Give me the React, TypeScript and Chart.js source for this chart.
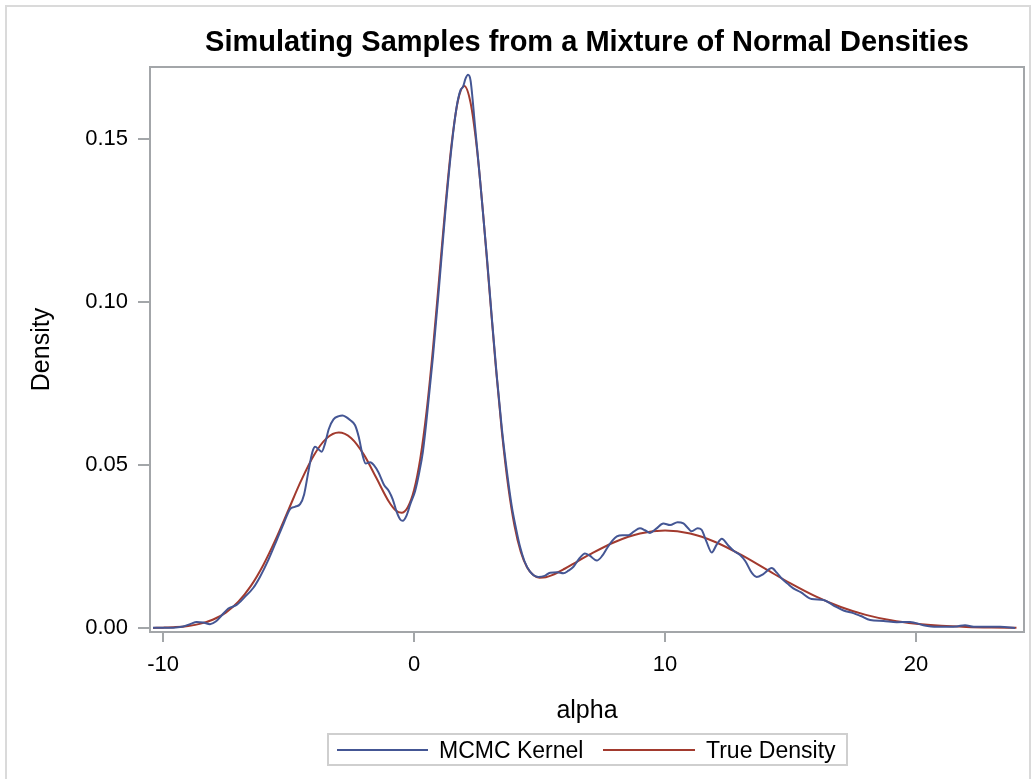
import React, { useEffect, useRef } from "react";
import { Chart, registerables } from "chart.js";

Chart.register(...registerables);

const chartTitle = "Simulating Samples from a Mixture of Normal Densities";
const xAxisTitle = "alpha";
const yAxisTitle = "Density";
const seriesNames = ["MCMC Kernel", "True Density"];
const seriesColors = ["#445694", "#A23A2E"];

const xTickValues = [-10, 0, 10, 20];
const xTickLabels = ["-10", "0", "10", "20"];
const yTickValues = [0, 0.05, 0.1, 0.15];
const yTickLabels = ["0.00", "0.05", "0.10", "0.15"];

const mcmcAlpha = [
  -10.4, -10.0, -9.5, -9.2, -8.9, -8.66, -8.4, -8.13, -7.9, -7.65, -7.4, -7.07, -6.75, -6.41, -6.14,
  -5.8, -5.47, -5.2, -4.94, -4.75, -4.54, -4.38, -4.21, -4.05, -3.94, -3.8, -3.68, -3.55, -3.4, -3.21,
  -3.0, -2.85, -2.7, -2.55, -2.35, -2.2, -2.05, -1.93, -1.75, -1.6, -1.42, -1.2, -1.0, -0.85, -0.7,
  -0.55, -0.45, -0.3, -0.15, 0.04, 0.2, 0.35, 0.5, 0.75, 1.0, 1.25, 1.5, 1.7, 1.85, 1.95, 2.05, 2.15,
  2.25, 2.43, 2.6, 2.9, 3.1, 3.3, 3.5, 3.7, 3.9, 4.05, 4.22, 4.4, 4.62, 4.95, 5.2, 5.42, 5.7, 5.95,
  6.15, 6.35, 6.6, 6.81, 7.0, 7.28, 7.5, 7.68, 7.9, 8.08, 8.3, 8.54, 8.75, 9.0, 9.2, 9.4, 9.65, 9.93,
  10.2, 10.5, 10.73, 10.9, 11.06, 11.3, 11.45, 11.65, 11.86, 12.05, 12.26, 12.5, 12.72, 12.99, 13.2,
  13.45, 13.65, 13.9, 14.25, 14.45, 14.65, 14.9, 15.11, 15.4, 15.84, 16.31, 16.7, 17.11, 17.5, 17.8,
  18.17, 18.7, 19.23, 19.76, 20.29, 20.82, 21.3, 21.62, 21.95, 22.3, 22.8, 23.35, 23.94,
];
const mcmcDensity = [
  0.0001, 0.0001, 0.0002, 0.0005, 0.0013, 0.0019, 0.0017, 0.0012, 0.002, 0.004, 0.006, 0.0071, 0.0095, 0.0123, 0.0157,
  0.021, 0.027, 0.032, 0.0365, 0.0372, 0.038, 0.041, 0.048, 0.054, 0.0556, 0.0548, 0.0541, 0.0565, 0.061, 0.064,
  0.065, 0.0652, 0.0647, 0.0638, 0.0622, 0.0585, 0.053, 0.0505, 0.0509, 0.05, 0.0478, 0.044, 0.042, 0.0395, 0.0358,
  0.0333, 0.0329, 0.0345, 0.038, 0.042, 0.0475, 0.054, 0.064, 0.083, 0.105, 0.128, 0.148, 0.16, 0.165, 0.166, 0.1685, 0.1697,
  0.168, 0.1538, 0.14, 0.114, 0.095, 0.077, 0.061, 0.048, 0.037, 0.031, 0.025, 0.0205, 0.0173, 0.0157, 0.016, 0.017, 0.0171, 0.0168,
  0.0176, 0.0188, 0.0215, 0.0229, 0.0222, 0.0207, 0.0222, 0.0244, 0.0268, 0.0281, 0.0285, 0.0285, 0.0296, 0.0306, 0.03, 0.0292, 0.0305, 0.0321,
  0.0316, 0.0325, 0.0321, 0.0308, 0.0297, 0.0306, 0.0302, 0.0265, 0.0232, 0.0255, 0.0274, 0.0255, 0.0238, 0.0224, 0.0205,
  0.017, 0.0157, 0.0165, 0.0184, 0.017, 0.0152, 0.0135, 0.0122, 0.011, 0.0089, 0.0086, 0.007, 0.0054, 0.0046, 0.0037,
  0.0025, 0.0022, 0.0018, 0.0019, 0.0009, 0.0004, 0.0004, 0.0005, 0.0009, 0.0004, 0.0004, 0.0004, 0.0,
];

const trueAlpha = [
  -10.4, -10, -9.5, -9, -8.5, -8, -7.5, -7, -6.5, -6, -5.5, -5, -4.5, -4, -3.5, -3, -2.5, -2, -1.5, -1,
  -0.75, -0.5, -0.25, 0, 0.25, 0.5, 0.75, 1, 1.25, 1.5, 1.75, 2, 2.25, 2.5, 2.75, 3, 3.25, 3.5, 3.75, 4,
  4.25, 4.5, 4.75, 5, 5.25, 5.5, 6, 6.5, 7, 8, 9, 10, 11, 12, 13, 14, 15, 16, 17, 18, 19, 20, 21, 22, 23, 24,
];
const trueDensity = [
  0.00006, 0.00013, 0.0003, 0.00067, 0.00137, 0.00263, 0.00476, 0.0081, 0.01294, 0.01944, 0.02742, 0.03633, 0.04522, 0.05289, 0.05811, 0.06, 0.05824, 0.05321, 0.04601, 0.03875,
  0.03625, 0.03536, 0.03708, 0.04235, 0.05204, 0.06654, 0.08544, 0.10727, 0.12945, 0.14872, 0.16181, 0.16626, 0.16116, 0.14735, 0.1272, 0.10393, 0.08072, 0.06012, 0.04355, 0.03145,
  0.02343, 0.01869, 0.01631, 0.01547, 0.0156, 0.01624, 0.0182, 0.02042, 0.02258, 0.02641, 0.029, 0.02992, 0.029, 0.02641, 0.02258, 0.01815, 0.0137, 0.00972, 0.00647, 0.00405, 0.00238, 0.00132, 0.00068, 0.00033, 0.00015, 0.00007,
];

const FONT = '"Liberation Sans", Arial, Helvetica, sans-serif';
const AXIS_GRAY = "#a3a6a9";

const decorPlugin = {
  id: "decor",
  afterDraw(chart: any) {
    const ctx = chart.ctx as CanvasRenderingContext2D;
    const a = chart.chartArea;
    const cx = (a.left + a.right) / 2;
    ctx.save();
    // plot frame
    ctx.strokeStyle = AXIS_GRAY;
    ctx.lineWidth = 2;
    ctx.strokeRect(a.left, a.top, a.right - a.left, a.bottom - a.top);
    // outer border
    ctx.strokeStyle = "#dadada";
    ctx.lineWidth = 2;
    ctx.beginPath();
    ctx.moveTo(6, 800);
    ctx.lineTo(6, 6);
    ctx.lineTo(1030, 6);
    ctx.lineTo(1030, 800);
    ctx.stroke();
    // title
    ctx.fillStyle = "#000";
    ctx.textAlign = "center";
    ctx.textBaseline = "alphabetic";
    ctx.font = `bold 29px ${FONT}`;
    ctx.fillText(chartTitle, cx, 51);
    // axis titles
    ctx.font = `25px ${FONT}`;
    ctx.fillText(xAxisTitle, cx, 718);
    ctx.save();
    ctx.translate(49, (a.top + a.bottom) / 2);
    ctx.rotate(-Math.PI / 2);
    ctx.fillText(yAxisTitle, 0, 0);
    ctx.restore();
    // legend
    ctx.strokeStyle = "#cfcfcf";
    ctx.lineWidth = 2;
    ctx.strokeRect(328, 734, 519, 31);
    const items = [
      { x0: 337, x1: 428, tx: 439 },
      { x0: 603, x1: 695, tx: 706 },
    ];
    ctx.font = `23px ${FONT}`;
    ctx.textAlign = "left";
    items.forEach((it, i) => {
      ctx.strokeStyle = seriesColors[i];
      ctx.lineWidth = 2;
      ctx.beginPath();
      ctx.moveTo(it.x0, 750);
      ctx.lineTo(it.x1, 750);
      ctx.stroke();
      ctx.fillStyle = "#000";
      ctx.fillText(seriesNames[i], it.tx, 758);
    });
    ctx.restore();
  },
};

export default function App() {
  const ref = useRef<HTMLCanvasElement | null>(null);
  useEffect(() => {
    if (!ref.current) return;
    const chart = new Chart(ref.current, {
      type: "line",
      data: {
        datasets: [
          {
            label: seriesNames[0],
            data: mcmcAlpha.map((x, i) => ({ x, y: mcmcDensity[i] })),
            borderColor: seriesColors[0],
            borderWidth: 2,
            pointRadius: 0,
            cubicInterpolationMode: "monotone",
          },
          {
            label: seriesNames[1],
            data: trueAlpha.map((x, i) => ({ x, y: trueDensity[i] })),
            borderColor: seriesColors[1],
            borderWidth: 2,
            pointRadius: 0,
            cubicInterpolationMode: "monotone",
          },
        ],
      },
      options: {
        animation: false,
        responsive: false,
        devicePixelRatio: 1,
        layout: { padding: { left: 0, right: 8, top: 67, bottom: 0 } },
        plugins: {
          legend: { display: false },
          title: { display: false },
          tooltip: { enabled: false },
        },
        scales: {
          x: {
            type: "linear",
            min: -10.52,
            max: 24.3,
            afterBuildTicks: (s: any) => {
              s.ticks = xTickValues.map((v) => ({ value: v }));
            },
            afterFit: (s: any) => {
              s.height = 147;
            },
            ticks: {
              autoSkip: false,
              maxRotation: 0,
              color: "#000",
              padding: 10,
              font: { family: FONT, size: 22 },
              callback: (_v: any, i: number) => xTickLabels[i],
            },
            grid: { drawOnChartArea: false, drawTicks: true, tickLength: 10, color: AXIS_GRAY, lineWidth: 2 },
            border: { display: false },
          },
          y: {
            type: "linear",
            min: -0.0012,
            max: 0.1721,
            afterBuildTicks: (s: any) => {
              s.ticks = yTickValues.map((v) => ({ value: v }));
            },
            afterFit: (s: any) => {
              s.width = 150;
            },
            ticks: {
              autoSkip: false,
              color: "#000",
              padding: 10,
              font: { family: FONT, size: 22 },
              callback: (_v: any, i: number) => yTickLabels[i],
            },
            grid: { drawOnChartArea: false, drawTicks: true, tickLength: 12, color: AXIS_GRAY, lineWidth: 2 },
            border: { display: false },
          },
        },
      },
      plugins: [decorPlugin],
    });
    return () => chart.destroy();
  }, []);
  return (
    <div style={{ position: "absolute", left: 0, top: 0, width: 1032, height: 779, background: "#fff" }}>
      <canvas ref={ref} width={1032} height={779} style={{ width: 1032, height: 779, display: "block" }} />
    </div>
  );
}
